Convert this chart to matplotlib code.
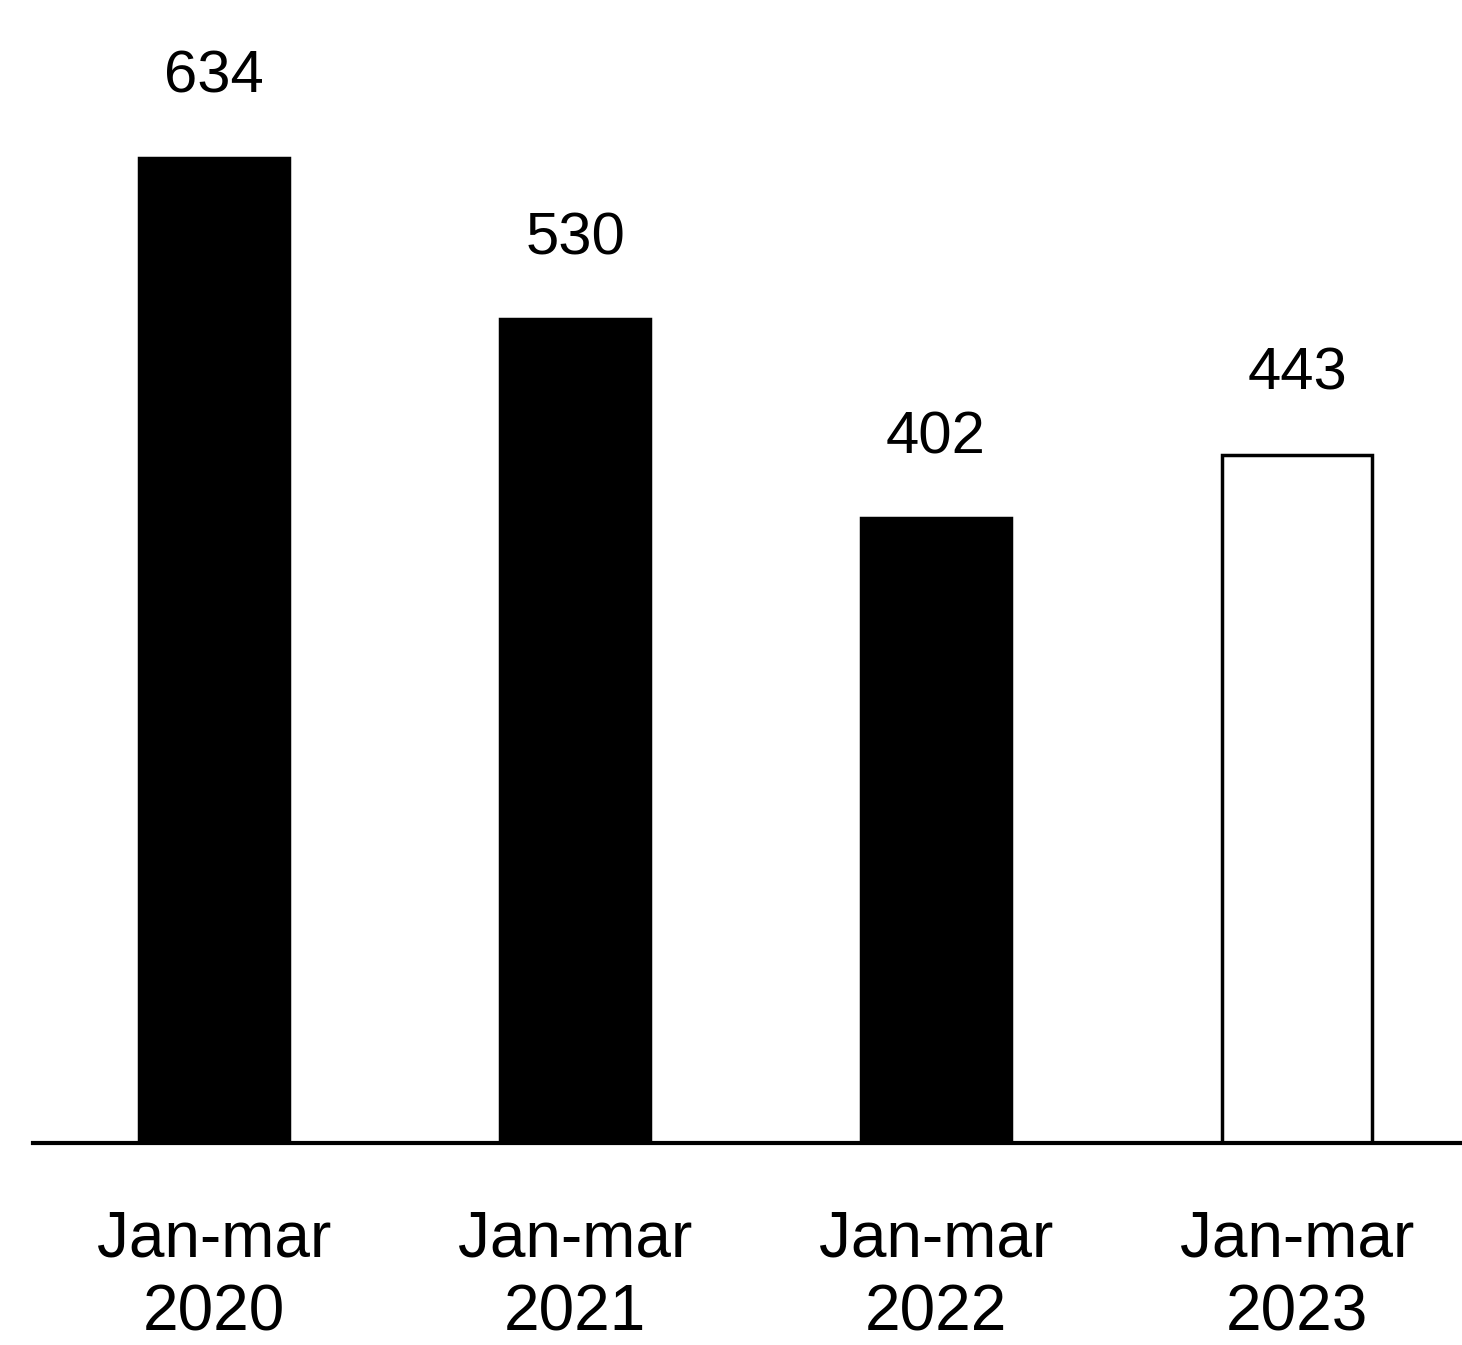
import matplotlib
matplotlib.use("Agg")
import matplotlib.pyplot as plt

# quarterly totals, Jan-mar of each year
periods = ["Jan-mar\n2020", "Jan-mar\n2021", "Jan-mar\n2022", "Jan-mar\n2023"]
values = [634, 530, 402, 443]
fills = ["black", "black", "black", "white"]

plt.rcParams["font.family"] = ["Liberation Sans", "DejaVu Sans"]

fig = plt.figure(figsize=(14.62, 13.45), dpi=100)
ax = fig.add_axes([0.0, 0.1502, 1.0, 0.8498])

x = range(len(values))
bars = ax.bar(x, values, width=0.415, color=fills, edgecolor="black", linewidth=2.5)

for b, v in zip(bars, values):
    ax.annotate(str(v), (b.get_x() + b.get_width() / 2, v),
                xytext=(0, 58), textcoords="offset points",
                ha="center", va="center", fontsize=43)

ax.set_xlim(-0.593, 3.457)
ax.set_ylim(0, 735.5)
ax.set_xticks(list(x))
ax.set_xticklabels(periods, fontsize=46, linespacing=1.3, fontweight="medium")
ax.tick_params(axis="x", length=0, pad=48)
ax.set_yticks([])
for s in ["left", "right", "top"]:
    ax.spines[s].set_visible(False)
ax.spines["bottom"].set_linewidth(3)
ax.spines["bottom"].set_bounds(-0.501, 3.457)

fig.savefig("out.png", dpi=100)
